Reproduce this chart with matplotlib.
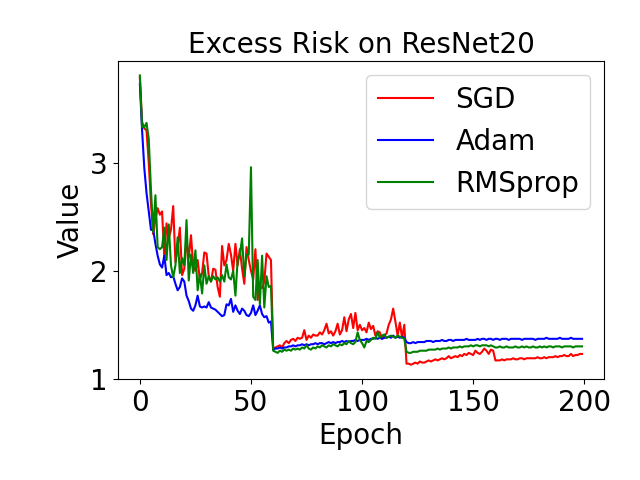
import matplotlib
matplotlib.use("Agg")
import matplotlib.pyplot as plt
import numpy as np

# Excess risk per epoch
sgd = [
    3.79, 3.38, 3.32, 3.30, 3.00, 2.62, 2.34, 2.48, 2.58, 2.52,
    2.55, 2.12, 2.44, 2.30, 2.38, 2.60, 2.08, 2.22, 2.40, 1.96,
    2.02, 2.28, 2.12, 2.33, 2.05, 2.00, 2.10, 1.92, 1.98, 2.17,
    2.16, 1.95, 1.90, 2.02, 2.01, 1.85, 1.76, 2.23, 2.05, 2.10,
    2.25, 2.15, 2.00, 2.25, 2.05, 2.20, 2.02, 1.88, 2.22, 2.10,
    2.00, 1.92, 2.20, 1.73, 1.85, 1.84, 1.90, 2.16, 2.13, 2.10,
    1.27, 1.29, 1.30, 1.31, 1.29, 1.33, 1.35, 1.33, 1.36, 1.37,
    1.35, 1.38, 1.37, 1.38, 1.45, 1.36, 1.40, 1.38, 1.41, 1.40,
    1.40, 1.43, 1.41, 1.45, 1.51, 1.42, 1.44, 1.40, 1.44, 1.51,
    1.41, 1.45, 1.57, 1.44, 1.55, 1.60, 1.47, 1.61, 1.45, 1.50,
    1.45, 1.47, 1.43, 1.52, 1.46, 1.49, 1.40, 1.44, 1.43, 1.37,
    1.40, 1.42, 1.50, 1.55, 1.65, 1.53, 1.40, 1.52, 1.38, 1.50,
    1.14, 1.14, 1.13, 1.14, 1.15, 1.14, 1.16, 1.15, 1.15, 1.16,
    1.17, 1.16, 1.17, 1.18, 1.17, 1.18, 1.19, 1.18, 1.19, 1.21,
    1.19, 1.20, 1.21, 1.20, 1.22, 1.21, 1.23, 1.22, 1.24, 1.23,
    1.22, 1.26, 1.24, 1.23, 1.25, 1.28, 1.26, 1.23, 1.27, 1.26,
    1.17, 1.17, 1.17, 1.18, 1.17, 1.18, 1.18, 1.18, 1.19, 1.18,
    1.18, 1.19, 1.19, 1.18, 1.19, 1.19, 1.19, 1.19, 1.19, 1.20,
    1.19, 1.19, 1.20, 1.19, 1.20, 1.20, 1.20, 1.21, 1.20, 1.21,
    1.21, 1.22, 1.21, 1.21, 1.23, 1.21, 1.22, 1.22, 1.23, 1.23,
]

adam = [
    3.73, 3.30, 2.95, 2.72, 2.55, 2.38, 2.38, 2.25, 2.14, 2.06,
    2.03, 2.14, 1.96, 1.98, 1.94, 1.95, 1.88, 1.82, 1.85, 1.93,
    1.90, 1.77, 1.72, 1.65, 1.63, 1.68, 1.77, 1.67, 1.66, 1.67,
    1.66, 1.71, 1.66, 1.65, 1.64, 1.62, 1.60, 1.58, 1.59, 1.69,
    1.68, 1.74, 1.62, 1.68, 1.63, 1.60, 1.65, 1.63, 1.59, 1.58,
    1.61, 1.68, 1.59, 1.63, 1.68, 1.60, 1.57, 1.58, 1.52, 1.53,
    1.27, 1.28, 1.28, 1.29, 1.28, 1.29, 1.29, 1.30, 1.30, 1.31,
    1.30, 1.31, 1.31, 1.32, 1.31, 1.32, 1.31, 1.32, 1.32, 1.33,
    1.32, 1.33, 1.33, 1.32, 1.33, 1.34, 1.33, 1.34, 1.33, 1.34,
    1.34, 1.35, 1.34, 1.35, 1.34, 1.35, 1.35, 1.36, 1.35, 1.36,
    1.36, 1.36, 1.37, 1.36, 1.37, 1.37, 1.38, 1.37, 1.38, 1.37,
    1.38, 1.38, 1.39, 1.38, 1.40, 1.38, 1.39, 1.38, 1.39, 1.38,
    1.34, 1.33, 1.33, 1.34, 1.33, 1.34, 1.34, 1.34, 1.34, 1.35,
    1.35, 1.35, 1.34, 1.35, 1.35, 1.35, 1.36, 1.35, 1.35, 1.36,
    1.36, 1.35, 1.36, 1.36, 1.36, 1.36, 1.36, 1.37, 1.36, 1.36,
    1.36, 1.36, 1.37, 1.36, 1.37, 1.37, 1.36, 1.37, 1.37, 1.36,
    1.37, 1.37, 1.36, 1.37, 1.37, 1.37, 1.36, 1.37, 1.37, 1.37,
    1.37, 1.37, 1.36, 1.37, 1.37, 1.37, 1.37, 1.37, 1.36, 1.37,
    1.37, 1.37, 1.37, 1.38, 1.37, 1.37, 1.37, 1.37, 1.37, 1.38,
    1.37, 1.37, 1.37, 1.37, 1.38, 1.37, 1.37, 1.37, 1.37, 1.37,
]

rmsprop = [
    3.81, 3.33, 3.33, 3.37, 3.22, 2.75, 2.36, 2.70, 2.22, 2.20,
    2.22, 2.40, 2.10, 2.43, 2.05, 1.94, 2.05, 2.31, 1.98, 2.12,
    2.05, 2.47, 1.91, 2.15, 1.98, 2.19, 1.82, 1.97, 1.79, 2.05,
    1.88, 1.95, 1.90, 1.95, 1.92, 1.94, 1.90, 1.96, 1.90, 2.06,
    1.94, 1.92, 2.00, 1.77, 2.10, 2.15, 2.30, 1.95, 2.15, 2.15,
    2.96, 1.76, 1.73, 2.10, 1.69, 2.14, 1.66, 1.95, 1.85, 1.86,
    1.26, 1.25, 1.24, 1.26, 1.25, 1.27, 1.26, 1.27, 1.26, 1.28,
    1.27, 1.28, 1.27, 1.29, 1.28, 1.31, 1.28, 1.27, 1.29, 1.28,
    1.30, 1.29, 1.31, 1.30, 1.29, 1.31, 1.30, 1.32, 1.31, 1.30,
    1.32, 1.31, 1.33, 1.32, 1.35, 1.33, 1.32, 1.34, 1.43, 1.36,
    1.33, 1.29, 1.35, 1.34, 1.36, 1.38, 1.37, 1.43, 1.38, 1.40,
    1.41, 1.38, 1.39, 1.40, 1.39, 1.38, 1.40, 1.39, 1.38, 1.37,
    1.25, 1.24, 1.24, 1.25, 1.25, 1.25, 1.26, 1.26, 1.26, 1.26,
    1.27, 1.27, 1.27, 1.27, 1.28, 1.27, 1.28, 1.28, 1.28, 1.29,
    1.28, 1.29, 1.29, 1.29, 1.30, 1.29, 1.30, 1.30, 1.30, 1.31,
    1.30, 1.31, 1.31, 1.30, 1.31, 1.31, 1.31, 1.30, 1.31, 1.30,
    1.29, 1.29, 1.30, 1.29, 1.29, 1.30, 1.29, 1.29, 1.29, 1.30,
    1.29, 1.29, 1.30, 1.29, 1.30, 1.29, 1.29, 1.30, 1.29, 1.29,
    1.30, 1.29, 1.30, 1.29, 1.30, 1.30, 1.29, 1.30, 1.30, 1.30,
    1.29, 1.30, 1.30, 1.30, 1.30, 1.29, 1.30, 1.30, 1.30, 1.30,
]

epochs = np.arange(len(sgd))

FONT_SIZE = 20

fig, ax = plt.subplots(figsize=(6.4, 4.8), dpi=100)
fig.subplots_adjust(left=0.184, right=0.944, bottom=0.21, top=0.873)

ax.plot(epochs, sgd, color="red", label="SGD")
ax.plot(epochs, adam, color="blue", label="Adam")
ax.plot(epochs, rmsprop, color="green", label="RMSprop")

ax.set_title("Excess Risk on ResNet20", fontsize=FONT_SIZE)
ax.set_xlabel("Epoch", fontsize=FONT_SIZE)
ax.set_ylabel("Value", fontsize=FONT_SIZE)
ax.set_xticks([0, 50, 100, 150, 200])
ax.set_yticks([1, 2, 3])
ax.tick_params(labelsize=FONT_SIZE)
ax.legend(loc="upper right", fontsize=FONT_SIZE)

fig.savefig("out.png", dpi=100)
